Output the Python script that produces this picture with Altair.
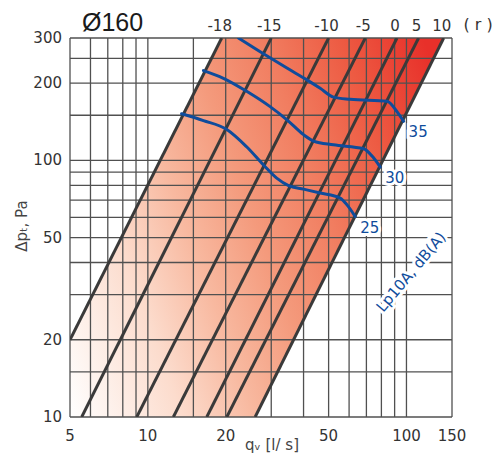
import altair as alt
import pandas as pd

# ---- damper setting lines (r): endpoints ----
settings = ["-18", "-15", "-10", "-5", "0", "5", "10"]
q_low = [5.0, 5.55, 9.06, 12.55, 16.9, 20.2, 26.0]
p_low = [20, 10, 10, 10, 10, 10, 10]
q_high = [19.3, 30.0, 50.0, 69.3, 91.9, 111.4, 139.3]
p_high = [300, 300, 300, 300, 300, 300, 300]

# ---- sound level curves Lp10A, dB(A) ----
q_25 = [13.5, 16.4, 20.2, 24.1, 28.0, 31.5, 35.0, 40.0, 46.4, 55.4, 58.9, 63.4]
p_25 = [152, 143, 132, 113, 96, 85.3, 79.8, 77.3, 74.6, 71.3, 67.1, 60.4]
q_30 = [16.4, 19.6, 24.1, 29.7, 34.5, 40.0, 43.7, 52.2, 68.3, 73.6, 79.2]
p_30 = [224, 209, 186, 162, 144, 126, 119, 115, 111, 104, 94.2]
q_35 = [22.4, 28.4, 34.5, 41.2, 46.4, 52.2, 60.6, 84.1, 91.9, 97.5]
p_35 = [300, 258, 229, 206, 191, 176.5, 173, 170, 155, 142]

# ---- grid and tick values ----
x_grid = [5, 6, 7, 8, 9, 10, 15, 20, 30, 40, 50, 60, 70, 80, 90, 100, 150]
y_grid = [10, 15, 20, 30, 40, 50, 60, 70, 80, 90, 100, 150, 200, 250, 300]
x_labels = [5, 10, 20, 50, 100, 150]
y_labels = [10, 20, 50, 100, 200, 300]

BLUE = "#0f4c9c"
GRID = "#505050"
LINE = "#3a3a3a"
FONT = "DejaVu Sans"
W, H = 382, 379

xs = alt.Scale(type="log", domain=[5, 150], nice=False, zero=False)
ys = alt.Scale(type="log", domain=[10, 300], nice=False, zero=False)

def X(f):
    return alt.X(f, type="quantitative", scale=xs, axis=None)

def Y(f):
    return alt.Y(f, type="quantitative", scale=ys, axis=None)

# tables built from the arrays
lines_rows = []
for s, ql, pl, qh, ph in zip(settings, q_low, p_low, q_high, p_high):
    lines_rows.append({"setting": s, "q": ql, "p": pl})
    lines_rows.append({"setting": s, "q": qh, "p": ph})
lines_df = pd.DataFrame(lines_rows)

band_df = pd.DataFrame({
    "q": [q_low[0], q_high[0], q_low[-1], q_high[-1]],
    "upper": [p_low[0], p_high[0], p_high[-1], p_high[-1]],
    "lower": [p_low[-1], p_low[-1], p_low[-1], p_high[-1]],
})

curve_rows = []
for lev, qq, pp in (("25", q_25, p_25), ("30", q_30, p_30), ("35", q_35, p_35)):
    for i, (a, b) in enumerate(zip(qq, pp)):
        curve_rows.append({"level": lev, "i": i, "q": a, "p": b})
curves_df = pd.DataFrame(curve_rows)

ends_df = pd.DataFrame({
    "level": ["25", "30", "35"],
    "q": [q_25[-1], q_30[-1], q_35[-1]],
    "p": [p_25[-1], p_30[-1], p_35[-1]],
})

top_df = pd.DataFrame({"setting": settings, "q": q_high})
xlab_df = pd.DataFrame({"v": x_labels, "t": [str(v) for v in x_labels]})
ylab_df = pd.DataFrame({"v": y_labels, "t": [str(v) for v in y_labels]})

grad = alt.Gradient(
    gradient="linear",
    stops=[
        alt.GradientStop(color="#ffffff", offset=0),
        alt.GradientStop(color="#fcdccd", offset=0.22),
        alt.GradientStop(color="#f8b9a0", offset=0.36),
        alt.GradientStop(color="#f49a7c", offset=0.5),
        alt.GradientStop(color="#f17d60", offset=0.65),
        alt.GradientStop(color="#ed5a42", offset=0.8),
        alt.GradientStop(color="#e8302a", offset=0.96),
    ],
    x1=0, y1=1, x2=1.205, y2=0.554,
)

band = alt.Chart(band_df).mark_area(orient="vertical", color=grad, clip=True).encode(
    x=X("q"), y=Y("upper"), y2="lower:Q",
)

vgrid = alt.Chart(pd.DataFrame({"q": x_grid})).mark_rule(color=GRID, strokeWidth=1.3).encode(
    x=X("q")
)
hgrid = alt.Chart(pd.DataFrame({"p": y_grid})).mark_rule(color=GRID, strokeWidth=1.3).encode(
    y=Y("p")
)

diag = alt.Chart(lines_df).mark_line(color=LINE, strokeWidth=3, clip=True).encode(
    x=X("q"), y=Y("p"), detail="setting:N",
)

curves = alt.Chart(curves_df).mark_line(
    color=BLUE, strokeWidth=3, interpolate="monotone", clip=True, strokeCap="round"
).encode(
    x=X("q"), y=Y("p"), detail="level:N", order="i:Q",
)

# axis labels and titles
xlabels = alt.Chart(xlab_df).mark_text(
    font=FONT, fontSize=15, color="#333333", align="center", baseline="middle"
).encode(x=X("v"), y=alt.value(H + 18.5), text="t:N")
ylabels = alt.Chart(ylab_df).mark_text(
    font=FONT, fontSize=15, color="#333333", align="right", baseline="middle"
).encode(x=alt.value(-8), y=Y("v"), text="t:N")

xtitle = alt.Chart(pd.DataFrame({"t": ["qᵥ [l/ s]"]})).mark_text(
    font=FONT, fontSize=15, color="#444444", align="center", baseline="alphabetic"
).encode(x=alt.value(202), y=alt.value(H + 33), text="t:N")
ytitle = alt.Chart(pd.DataFrame({"t": ["Δpₜ, Pa"]})).mark_text(
    font=FONT, fontSize=15, color="#444444", align="center", baseline="middle", angle=270
).encode(x=alt.value(-48), y=alt.value(188), text="t:N")

top_labels = alt.Chart(top_df).mark_text(
    font=FONT, fontSize=15, color="#333333", align="center", baseline="middle", dx=-2
).encode(x=X("q"), y=alt.value(-12.5), text="setting:N")

r_label = alt.Chart(pd.DataFrame({"t": ["( r )"]})).mark_text(
    font=FONT, fontSize=16, color="#333333", align="center", baseline="middle"
).encode(x=alt.value(408), y=alt.value(-13), text="t:N")

title = alt.Chart(pd.DataFrame({"t": ["Ø160"]})).mark_text(
    font="Liberation Sans", fontSize=25, color="#1a1a1a", align="left", baseline="alphabetic"
).encode(x=alt.value(12), y=alt.value(-7), text="t:N")

lev_halo = alt.Chart(ends_df).mark_text(
    font=FONT, fontSize=15, color="white", stroke="white", strokeWidth=6,
    align="left", baseline="middle", dx=5, dy=11,
).encode(x=X("q"), y=Y("p"), text="level:N")
lev_text = alt.Chart(ends_df).mark_text(
    font=FONT, fontSize=15, color=BLUE, align="left", baseline="middle", dx=5, dy=11,
).encode(x=X("q"), y=Y("p"), text="level:N")

lp_df = pd.DataFrame({"t": ["Lp10A, dB(A)"]})
lp_halo = alt.Chart(lp_df).mark_text(
    font=FONT, fontSize=15, color="white", stroke="white", strokeWidth=6,
    align="center", baseline="middle", angle=310,
).encode(x=alt.value(341), y=alt.value(234), text="t:N")
lp_text = alt.Chart(lp_df).mark_text(
    font=FONT, fontSize=15, color=BLUE, align="center", baseline="middle", angle=310,
).encode(x=alt.value(341), y=alt.value(234), text="t:N")

chart = alt.layer(
    band, vgrid, hgrid, diag, curves,
    xlabels, ylabels, xtitle, ytitle,
    top_labels, r_label, title,
    lev_halo, lev_text, lp_halo, lp_text,
).properties(
    width=W, height=H,
    padding={"left": 62, "top": 30, "right": 41, "bottom": 38},
    autosize=alt.AutoSizeParams(type="none"),
).configure_view(stroke=None)

chart.save("out.html", embed_options={"renderer": "svg", "actions": False})
